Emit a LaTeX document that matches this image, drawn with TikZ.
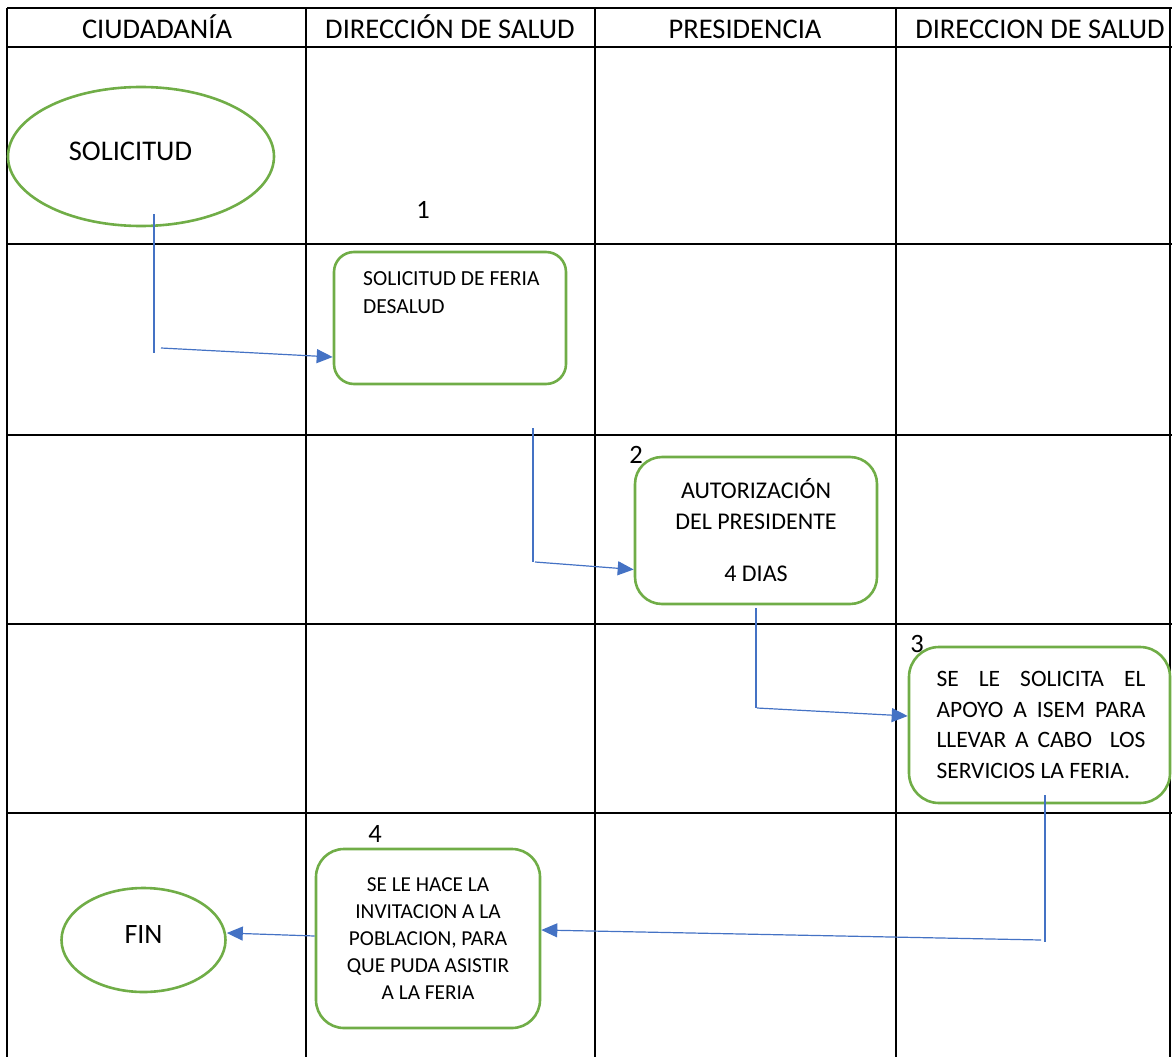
\documentclass[tikz,border=0pt]{standalone}
\usepackage{fontspec}
\setmainfont{Carlito}
\usetikzlibrary{shapes.geometric,arrows.meta}
\definecolor{lanegreen}{HTML}{70AD47}
\definecolor{flowblue}{HTML}{4472C4}
\begin{document}
\begin{tikzpicture}[x=1pt,y=-1pt,
  grid/.style={line width=2.4pt,black},
  head/.style={anchor=base,font=\fontsize{28.5}{33}\selectfont},
  terminal/.style={ellipse,draw=lanegreen,line width=2.6pt,inner sep=0pt},
  stepbox/.style={draw=lanegreen,line width=2.6pt,inner sep=0pt},
  num/.style={anchor=base,font=\fontsize{26.5}{31}\selectfont},
  link/.style={draw=flowblue,line width=1.2pt},
  arrowlink/.style={link,-{Triangle[length=16pt,width=14pt]}}]
\useasboundingbox (0,0) rectangle (1172,1057);

% swimlane grid
\foreach \yy in {8,47,244,435,624,813}
  \draw[grid] (7,\yy) -- (1172,\yy);
\foreach \xx in {7,306,595,896,1170}
  \draw[grid] (\xx,8) -- (\xx,1057);

% lane headers
\node[head] (h1) at (157,38) {CIUDADANÍA};
\node[head] (h2) at (450,38) {DIRECCIÓN DE SALUD};
\node[head] (h3) at (745,38) {PRESIDENCIA};
\node[head] (h4) at (1040,38) {DIRECCION DE SALUD};

% start and end
\node[terminal, minimum width=266pt, minimum height=139pt,
      font=\fontsize{28.5}{33}\selectfont] (sol) at (141,156.5)
      {\raisebox{9.5pt}{SOLICITUD}\kern21pt};
\node[terminal, minimum width=164pt, minimum height=104pt,
      font=\fontsize{28}{32}\selectfont] (fin) at (143.5,940)
      {\raisebox{10.5pt}{FIN}};

% process steps
\node[stepbox, rounded corners=20pt, minimum width=232pt, minimum height=132pt] (b1) at (450,318) {};
\node[anchor=north west, align=left, inner sep=0pt,
      font=\fontsize{21.5}{28}\selectfont] (b1t) at (363,271) {SOLICITUD DE FERIA\\DESALUD};

\node[stepbox, rounded corners=27pt, minimum width=242pt, minimum height=147pt,
      align=center, font=\fontsize{24}{31}\selectfont] (b2) at (756,530.5)
      {AUTORIZACIÓN\\DEL PRESIDENTE\\[21pt]4 DIAS};

\node[stepbox, rounded corners=30pt, minimum width=261pt, minimum height=156pt,
      align=left, font=\fontsize{23.5}{30.7}\selectfont] (b3) at (1039.5,725)
      {\kern3pt\makebox[209pt][s]{SE LE SOLICITA EL}\\
       \kern3pt\makebox[209pt][s]{APOYO A ISEM PARA}\\
       \kern3pt\makebox[209pt][s]{LLEVAR A CABO\ \ LOS}\\
       \kern3pt SERVICIOS LA FERIA.};

\node[stepbox, rounded corners=28pt, minimum width=224pt, minimum height=179pt,
      align=center, font=\fontsize{21.3}{27}\selectfont] (b4) at (428,938.5)
      {SE LE HACE LA\\INVITACION A LA\\POBLACION, PARA\\QUE PUDA ASISTIR\\A LA FERIA};

% step numbers
\node[num] (n1) at (423,218) {1};
\node[num] (n2) at (636,463) {2};
\node[num] (n3) at (917,652) {3};
\node[num] (n4) at (375,842) {4};

% connectors
\coordinate (p1a) at (154,214);
\coordinate (p1b) at (154,353);
\coordinate (p1c) at (161,348);
\draw[link] (p1a) -- (p1b);
\draw[arrowlink] (p1c) -- ([yshift=-39pt]b1.west);

\coordinate (p2a) at (533,428);
\coordinate (p2b) at (533,562);
\coordinate (p2c) at (535,562);
\draw[link] (p2a) -- (p2b);
\draw[arrowlink] (p2c) -- ([yshift=-39pt]b2.west);

\coordinate (p3a) at (756,608);
\coordinate (p3b) at (756,708);
\coordinate (p3c) at (757,708);
\draw[link] (p3a) -- (p3b);
\draw[arrowlink] (p3c) -- ([yshift=9pt]b3.west);

\coordinate (p4a) at (1045,795);
\coordinate (p4b) at (1045,942);
\coordinate (p4c) at (1041,940);
\draw[link] (p4a) -- (p4b);
\draw[arrowlink] (p4c) -- ([yshift=8.5pt]b4.east);

\draw[arrowlink] ([yshift=2.5pt]b4.west) -- ([yshift=7pt]fin.east);
\end{tikzpicture}
\end{document}
